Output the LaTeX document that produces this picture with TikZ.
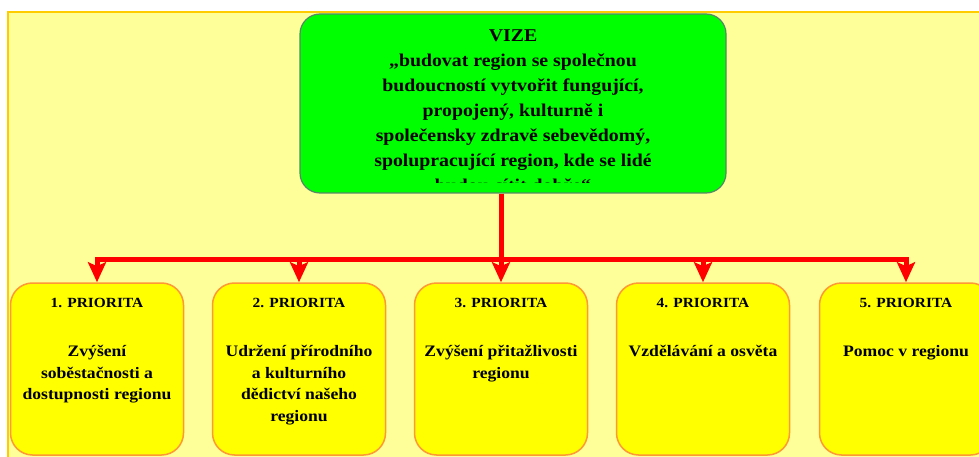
\documentclass[tikz,border=0pt]{standalone}
\usepackage{fontspec}
\setmainfont[FakeStretch=1.1]{Liberation Serif}
\usetikzlibrary{arrows.meta}

\definecolor{podklad}{HTML}{FFFF99}
\definecolor{podkladokraj}{HTML}{FFCC00}
\definecolor{vizezelena}{HTML}{00FF00}
\definecolor{vizeokraj}{HTML}{558866}
\definecolor{priozluta}{HTML}{FFFF00}
\definecolor{priookraj}{HTML}{FF9933}

\begin{document}
\begin{tikzpicture}[x=1pt, y=-1pt,
	vizebox/.style={draw=vizeokraj, line width=1.2pt, fill=vizezelena, rounded corners=20pt,
		minimum width=426pt, minimum height=179pt, inner sep=0pt},
	vizetext/.style={anchor=north, inner sep=0pt, align=center,
		font=\fontsize{18}{25}\selectfont\bfseries},
	priobox/.style={draw=priookraj, line width=1.5pt, fill=priozluta, rounded corners=22pt,
		minimum width=173pt, minimum height=172pt, inner sep=0pt},
	priotext/.style={anchor=north, inner sep=0pt, align=center,
		font=\fontsize{16}{21.5}\selectfont\bfseries},
	vetev/.style={red, line width=5pt},
	sipka/.style={red, line width=5pt, -{Stealth[length=20pt, width=18pt, inset=4pt]}}]
	
	\path[use as bounding box, clip] (0,0) rectangle (979,457);
	
	% Podklad
	\fill[podklad, draw=podkladokraj, line width=1.5pt] (8,12) rectangle (995,475);
	
	% Vize
	\node[vizebox] (vize) at (513,103.5) {};
	\begin{scope}
		\clip (vize.north west) rectangle ([yshift=11pt]vize.south east);
		\node[vizetext] (vizetext) at (513,23.5) {\strut VIZE\\
			„budovat region se společnou\\
			budoucností vytvořit fungující,\\
			propojený, kulturně i\\
			společensky zdravě sebevědomý,\\
			spolupracující region, kde se lidé\\
			budou cítit dobře“};
	\end{scope}
	
	% Priority
	\foreach \i/\x/\txt in {1/97/{Zvýšení\\soběstačnosti a\\dostupnosti regionu},
		2/299/{Udržení přírodního\\a kulturního\\dědictví našeho\\regionu},
		3/501/{Zvýšení přitažlivosti\\regionu},
		4/703/{Vzdělávání a osvěta},
		5/906/{Pomoc v regionu}}{
		\node[priobox] (p\i) at (\x,369) {};
		\node[priotext] (t\i) at ([yshift=-10pt]p\i.north)
			{\strut{\fontsize{14}{21.5}\selectfont\i. PRIORITA}\\[27.5pt]\txt};
	}
	
	% Spojnice
	\coordinate (sber) at (0,259);
	\draw[vetev] (vize.south -| p3.north) -- (sber -| p3.north);
	\draw[vetev, line cap=rect] (sber -| p1.north) -- (sber -| p5.north);
	\foreach \i in {1,...,5}
		\draw[sipka] ([yshift=2pt]sber -| p\i.north) -- (p\i.north);
\end{tikzpicture}
\end{document}
